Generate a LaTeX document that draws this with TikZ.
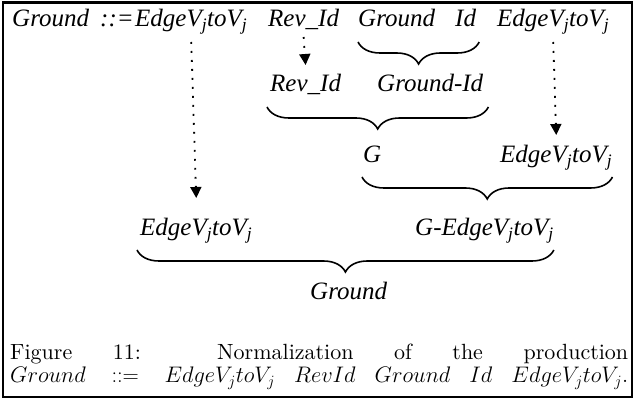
\RequirePackage{fix-cm}
\documentclass[tikz,border=0pt]{standalone}
\usepackage{fontspec}
\newfontfamily\tnr{Liberation Serif}
\newfontfamily\capfont{lmroman10-regular.otf}
\usetikzlibrary{calc,arrows.meta,decorations.pathreplacing}
\newcommand{\evv}{EdgeV\textsubscript{j}toV\textsubscript{j}}
\tikzset{
  word/.style={inner sep=0pt, anchor=base west, font=\tnr\itshape\fontsize{25}{29}\selectfont},
  under/.style={decorate, decoration={brace, mirror, amplitude=22pt}, line width=1.6pt},
  dots/.style={line width=1.8pt, dash pattern=on 1.8pt off 7.2pt, -{Triangle[width=11pt,length=11pt]}},
  capline/.style={inner sep=0pt, anchor=base west, font=\capfont\fontsize{22}{26}\selectfont}
}

\begin{document}
\begin{tikzpicture}[x=1pt,y=1pt]
			%%%%% START %%%%%
			\useasboundingbox (0,0) rectangle (634,401);
			\draw[line width=2.8pt] (3,4) rectangle (632,398.5);
			
			% the production
			\node[word] (gl) at (12,374) {Ground};
			\node[word] (def) at (100,374) {::=};
			\node[word] (ea) at (135,374) {\evv};
			\node[word] (ra) at (268,374) {Rev\_Id};
			\node[word] (ga) at (358,374) {Ground};
			\node[word] (ia) at (455,374) {Id};
			\node[word] (eb) at (497,374) {\evv};
			
			\node[word] (rb) at (270,309) {Rev\_Id};
			\node[word] (gi) at (377,309) {Ground-Id};
			
			\node[word] (gg) at (363,238) {G};
			\node[word] (ec) at (500,238) {\evv};
			
			\node[word] (ed) at (140,165) {\evv};
			\node[word] (ge) at (415,165) {G-\evv};
			
			\node[word] (gr) at (310,101) {Ground};
			
			% braces
			\draw[under] ($(ga.base west)+(0,-15)$) -- ($(ia.base east)+(3,-15)$);
			\draw[under] ($(rb.base west)+(-3,-15)$) -- ($(gi.base east)+(5,-15)$);
			\draw[under] ($(gg.base west)+(-1,-14)$) -- ($(ec.base east)+(0,-14)$);
			\draw[under] ($(ed.base west)+(-3,-14)$) -- ($(ge.base east)+(0,-14)$);
			
			% dotted moves
			\draw[dots] ($(ea.base)+(0,-15)$) -- ($(ed.base)+(0,38)$);
			\draw[dots] ($(ra.base)+(0,-10)$) -- ($(rb.base)+(0,27)$);
			\draw[dots] ($(eb.base)+(0,-15)$) -- ($(ec.base)+(0,28)$);
			
			% caption
			\node[capline] (capa) at (10,41) {\makebox[618pt][s]{Figure 11: Normalization of the production}};
			\node[capline] (capb) at (10,18) {\fontsize{22.5}{26}\selectfont\makebox[618pt][s]{$Ground ::= EdgeV_jtoV_j$ $RevId$ $Ground$ $Id$ $EdgeV_jtoV_j.$}};
			%%%%% END %%%%%
\end{tikzpicture}
\end{document}
